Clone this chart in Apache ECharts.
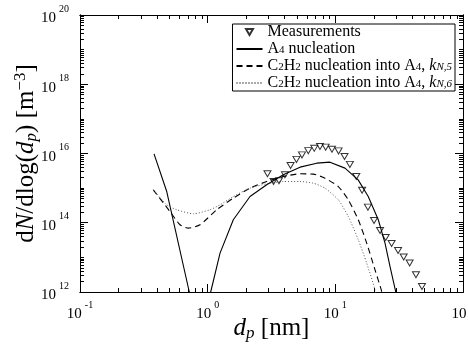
<!DOCTYPE html>
<html><head><meta charset="utf-8">
<script src="https://cdn.jsdelivr.net/npm/echarts@6/dist/echarts.min.js"></script>
<style>html,body{margin:0;padding:0;background:#fff}#c{width:468px;height:350px}</style>
</head><body><div id="c"></div>
<script>
// ---- data ----
const measX = [2.94, 3.28, 3.62, 4.03, 4.46, 4.96, 5.48, 6.14, 6.84, 7.58, 8.40, 9.41, 10.6, 11.8, 13.0, 14.6, 16.2, 18.0, 20.1, 22.4, 24.8, 27.6, 31.0, 34.3, 38.2, 42.8, 47.7];
const measY = [2.59e15, 1.55e15, 1.63e15, 2.42e15, 4.49e15, 6.78e15, 9.14e15, 1.21e16, 1.41e16, 1.59e16, 1.53e16, 1.33e16, 1.19e16, 8.17e15, 4.86e15, 2.16e15, 8.65e14, 2.83e14, 1.16e14, 5.98e13, 3.76e13, 2.52e13, 1.58e13, 1.02e13, 6.86e12, 3.15e12, 1.45e12];

const a4X = [0.380, 0.478, 0.718, 0.76, 1.0, 1.056, 1.25, 1.588, 2.146, 2.90, 3.91, 5.29, 7.15, 9.08, 11.9, 15.1, 18.1, 21.7, 24.5, 26.8, 29.7, 31.5];
const a4Y = [9.77e15, 7.98e14, 1.0e12, 4.9e11, 4.3e11, 1.0e12, 1.33e13, 1.22e14, 5.72e14, 1.25e15, 2.42e15, 4.04e15, 5.26e15, 5.62e15, 3.78e15, 1.73e15, 5.72e14, 1.22e14, 2.59e13, 5.47e12, 1.02e12, 4e11];

const k5X = [0.375, 0.507, 0.607, 0.705, 0.871, 1.177, 1.588, 2.146, 2.90, 3.91, 5.29, 6.72, 8.30, 10.55, 12.63, 15.13, 17.6, 20.45, 23.07, 24.5];
const k5Y = [8.93e14, 2.11e14, 8.74e13, 7.01e13, 8.74e13, 2.37e14, 5.14e14, 1.0e15, 1.55e15, 2.16e15, 2.59e15, 2.54e15, 1.94e15, 1.11e15, 4.59e14, 1.22e14, 2.59e13, 4.39e12, 1.04e12, 4e11];

const k6X = [0.375, 0.478, 0.572, 0.772, 1.043, 1.25, 1.588, 2.146, 2.90, 3.91, 5.29, 6.72, 8.30, 10.55, 12.63, 15.13, 17.6, 20.45, 21.5];
const k6Y = [8.93e14, 3.30e14, 2.37e14, 1.81e14, 2.37e14, 3.30e14, 5.72e14, 1.0e15, 1.33e15, 1.55e15, 1.55e15, 1.39e15, 1.0e15, 4.59e14, 1.52e14, 3.22e13, 6.86e12, 1.16e12, 4e11];

// tick labels (decades) and tick marks (interior only)
const xLabels = [0.1, 1, 10, 100];
const yLabels = [1e12, 1e14, 1e16, 1e18, 1e20];
const xMajor = [1, 10];
const xMinor = [0.2, 0.3, 0.4, 0.5, 0.6, 0.7, 0.8, 0.9, 2, 3, 4, 5, 6, 7, 8, 9, 20, 30, 40, 50, 60, 70, 80, 90];
const yMajor = [1e14, 1e16, 1e18];
const yMinor = [];
for (let k = 12; k < 20; k++) for (let m = 1; m <= 9; m++) { if (m === 1 && k % 2 === 0) continue; yMinor.push(Number(m + 'e' + k)); }

const names = ['Measurements', 'A4 nucleation', 'C2H2 nucleation into A4, kN,5', 'C2H2 nucleation into A4, kN,6'];
const legendRich = {
  'Measurements': '{r|Measurements}',
  'A4 nucleation': '{r|A}{sub|4}{r| nucleation}',
  'C2H2 nucleation into A4, kN,5': '{r|C}{sub|2}{r|H}{sub|2}{r| nucleation into A}{sub|4}{r|, }{i|k}{isub|N,5}',
  'C2H2 nucleation into A4, kN,6': '{r|C}{sub|2}{r|H}{sub|2}{r| nucleation into A}{sub|4}{r|, }{i|k}{isub|N,6}'
};

const FF = 'Liberation Serif';
const zip = (xs, ys) => xs.map((x, i) => [x, ys[i]]);

const tickRich = {
  b: { fontFamily: FF, fontSize: 15, color: '#000', lineHeight: 22, verticalAlign: 'bottom' },
  s: { fontFamily: FF, fontSize: 10, color: '#000', lineHeight: 14, verticalAlign: 'top', padding: [0, 0, 0, 3] }
};
const fmt = v => '{b|10}{s|' + Math.round(Math.log10(v)) + '}';

function tickAxis(isX, pos, vals, len, extra) {
  return Object.assign({
    type: 'log',
    min: isX ? 0.1 : 1e12, max: isX ? 100 : 1e20,
    position: pos,
    axisLine: { show: true, lineStyle: { color: '#000', width: 1 } },
    axisTick: { show: true, inside: true, length: len, customValues: vals, lineStyle: { color: '#000', width: 1 } },
    axisLabel: { show: false },
    splitLine: { show: false }
  }, extra || {});
}

const nameRich = {
  i: { fontFamily: FF, fontStyle: 'italic', fontSize: 25, color: '#000', lineHeight: 28 },
  isub: { fontFamily: FF, fontStyle: 'italic', fontSize: 17, color: '#000', lineHeight: 18, verticalAlign: 'bottom' },
  sup: { fontFamily: FF, fontSize: 17, color: '#000', lineHeight: 16, verticalAlign: 'top' },
  r: { fontFamily: FF, fontSize: 25, color: '#000', lineHeight: 28 }
};

const option = {
  animation: false,
  backgroundColor: '#fff',
  grid: { left: 80, top: 15, width: 383, height: 277, containLabel: false, outerBoundsMode: 'none' },
  xAxis: [
    tickAxis(true, 'bottom', xMajor, 8, {
      axisLabel: { show: true, customValues: xLabels, formatter: fmt, margin: 8, rich: tickRich },
      name: '{i|d}{isub|p}{r| [nm]}', nameLocation: 'middle', nameGap: 22, nameMoveOverlap: false,
      nameTextStyle: { rich: nameRich }
    }),
    tickAxis(true, 'bottom', xMinor, 4),
    tickAxis(true, 'top', xMajor, 8),
    tickAxis(true, 'top', xMinor, 4)
  ],
  yAxis: [
    tickAxis(false, 'left', yMajor, 8, {
      axisLabel: { show: true, customValues: yLabels, formatter: fmt, margin: 11, rich: tickRich },
      name: '{r|d}{i|N}{r|/dlog(}{i|d}{isub|p}{r|) [m}{sup|\u22123}{r|]}', nameLocation: 'middle', nameGap: 40, nameRotate: 90, nameMoveOverlap: false,
      nameTextStyle: { rich: nameRich }
    }),
    tickAxis(false, 'left', yMinor, 4),
    tickAxis(false, 'right', yMajor, 8),
    tickAxis(false, 'right', yMinor, 4)
  ],
  legend: {
    data: [
      { name: names[0] },
      { name: names[1], itemStyle: { opacity: 0 } },
      { name: names[2], itemStyle: { opacity: 0 } },
      { name: names[3], itemStyle: { opacity: 0 } }
    ],
    orient: 'vertical',
    right: 13, top: 24,
    itemWidth: 26, itemHeight: 6, itemGap: 1,
    padding: [0, 3, 0, 3],
    borderColor: '#000', borderWidth: 1, backgroundColor: '#fff',
    formatter: n => legendRich[n],
    textStyle: {
      fontFamily: FF, fontSize: 16, color: '#000',
      rich: {
        r: { fontFamily: FF, fontSize: 16, color: '#000', lineHeight: 13 },
        sub: { fontFamily: FF, fontSize: 11, color: '#000', lineHeight: 9, verticalAlign: 'bottom' },
        i: { fontFamily: FF, fontStyle: 'italic', fontSize: 16, color: '#000', lineHeight: 13 },
        isub: { fontFamily: FF, fontStyle: 'italic', fontSize: 11, color: '#000', lineHeight: 9, verticalAlign: 'bottom' }
      }
    }
  },
  series: [
    { name: names[1], type: 'line', data: zip(a4X, a4Y), symbol: 'none', showSymbol: false,
      lineStyle: { color: '#000', width: 1.1, type: 'solid' }, itemStyle: { color: '#000' }, z: 3 },
    { name: names[2], type: 'line', data: zip(k5X, k5Y), symbol: 'none', showSymbol: false, smooth: 0.2,
      lineStyle: { color: '#000', width: 1.1, type: [6, 4] }, itemStyle: { color: '#000' }, z: 3 },
    { name: names[3], type: 'line', data: zip(k6X, k6Y), symbol: 'none', showSymbol: false, smooth: 0.2,
      lineStyle: { color: '#555', width: 1, type: [1, 2] }, itemStyle: { color: '#555' }, z: 3 },
    { name: names[0], type: 'scatter', data: zip(measX, measY),
      symbol: 'path://M0,0 L10,0 L5,8.66 Z', symbolSize: [7, 6],
      itemStyle: { color: 'rgba(255,255,255,0)', borderColor: '#000', borderWidth: 1 }, z: 4 }
  ]
};
const chart = echarts.init(document.getElementById('c'), null, { renderer: 'canvas' });
chart.setOption(option);
</script>
</body></html>
